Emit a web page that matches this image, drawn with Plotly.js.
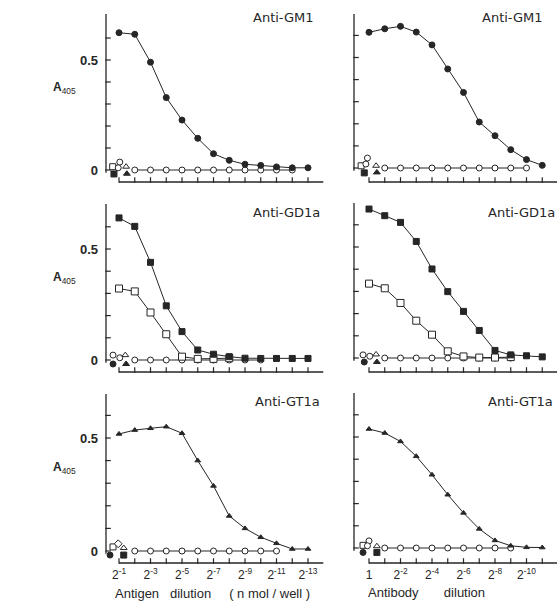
<!DOCTYPE html>
<html>
<head>
<meta charset="utf-8">
<script src="https://cdn.plot.ly/plotly-3.0.1.min.js"></script>
<style>html,body{margin:0;padding:0;background:#fff;}#chart{width:559px;height:613px;}</style>
</head>
<body>
<div id="chart"></div>
<script>
// ---------------- data (dilution exponents n: 2^-n) ----------------
const leftN  = [1,2,3,4,5,6,7,8,9,10,11,12,13];
const rightN = [0,1,2,3,4,5,6,7,8,9,10,11];

const panelTitles = ['Anti-GM1','Anti-GM1','Anti-GD1a','Anti-GD1a','Anti-GT1a','Anti-GT1a'];
const xTitleLeft  = 'Antigen\u00a0\u00a0\u00a0dilution\u00a0\u00a0\u00a0\u00a0\u00a0(\u00a0n\u00a0mol\u00a0/\u00a0well\u00a0)';
const xTitleRight = 'Antibody\u00a0\u00a0\u00a0\u00a0\u00a0\u00a0\u00a0dilution';
const yTickVals = [0,0.1,0.2,0.3,0.4,0.5,0.6];
const yTickText = ['<b>0</b>','','','','','<b>0.5</b>',''];

// top row : anti-GM1
const tlGM1 = [0.624,0.617,0.49,0.329,0.227,0.144,0.074,0.044,0.026,0.021,0.014,0.01,0.01];
const trGM1 = [0.614,0.63,0.641,0.615,0.557,0.448,0.342,0.208,0.146,0.083,0.038,0.012];
// middle row : anti-GD1a
const mlGD1aFilled = [0.64,0.602,0.44,0.244,0.128,0.045,0.026,0.015,0.008,0.007,0.007,0.007,0.007];
const mlGD1aOpenN  = [1,2,3,4,5,6,7,8];
const mlGD1aOpen   = [0.322,0.309,0.214,0.116,0.015,0.005,0.005,0.008];
const mrGD1aFilled = [0.671,0.641,0.611,0.525,0.401,0.299,0.21,0.124,0.034,0.014,0.01,0.005];
const mrGD1aOpenN  = [0,1,2,3,4,5,6,7,8,9];
const mrGD1aOpen   = [0.335,0.314,0.248,0.168,0.105,0.03,0.007,0.002,0.002,0.004];
// bottom row : anti-GT1a
const blGT1a = [0.518,0.535,0.543,0.55,0.521,0.4,0.288,0.155,0.1,0.061,0.034,0.009,0.009];
const brGT1a = [0.536,0.518,0.48,0.413,0.33,0.24,0.158,0.086,0.034,0.01,0.003,0.002];

// open-circle control lines near zero
const tlZeroN = [2,3,4,5,6,7,8,9,10,11,12];
const trZeroN = [1,2,3,4,5,6,7,8,9,10];
const mlZeroN = [2,3,4,5,6,7,8,9,10];
const mrZeroN = [1,2,3,4,5,6,7,8,9];
const blZeroN = [2,3,4,5,6,7,8,9,10,11];
const brZeroN = [1,2,3,4,5,6,7,8,9];

// control symbols clustered at the first dilution
const tlCtrlX = [0.6, 1.05, 1.45, 0.95, 0.68, 1.5];
const tlCtrlY = [0.015, 0.036, 0.015, 0.01, -0.018, -0.017];
const tlCtrlS = ['square-open','circle-open','triangle-up-open','circle-open','square','triangle-up'];
const trCtrlX = [-0.5, -0.1, 0.45, -0.2, -0.3, 0.5];
const trCtrlY = [0.01, 0.045, 0.01, 0.018, -0.022, -0.02];
const trCtrlS = ['square-open','circle-open','triangle-up-open','circle-open','square','triangle-up'];
const mlCtrlX = [0.62, 1.05, 1.4, 0.62, 1.45];
const mlCtrlY = [0.022, 0.01, 0.022, -0.018, -0.018];
const mlCtrlS = ['circle-open','circle-open','triangle-up-open','circle','triangle-up'];
const mrCtrlX = [-0.38, 0.05, 0.45, -0.3, 0.5];
const mrCtrlY = [0.014, 0.008, 0.016, -0.018, -0.018];
const mrCtrlS = ['circle-open','circle-open','triangle-up-open','circle','triangle-up'];
const blCtrlX = [0.62, 0.95, 1.3, 0.43, 1.3];
const blCtrlY = [0.018, 0.032, 0.013, -0.018, -0.018];
const blCtrlS = ['square-open','diamond-open','triangle-up-open','circle','square'];
const brCtrlX = [-0.38, 0.0, 0.5, -0.1, -0.38, 0.5];
const brCtrlY = [0.012, 0.032, 0.008, 0.01, -0.02, -0.02];
const brCtrlS = ['square-open','circle-open','triangle-up-open','circle-open','circle','square'];

// ---------------- geometry ----------------
const W = 559, H = 613;
const STEP = 15.75;
const PAD_L = 4, PAD_B = 3, PAD_T = 2;   // plot area extends slightly past the axis lines
const geo = [
  {side:'L', zero:170, scale:220, bottom:182, top:14},
  {side:'R', zero:168, scale:221, bottom:182, top:14},
  {side:'L', zero:360, scale:222, bottom:372, top:204},
  {side:'R', zero:358, scale:222, bottom:372, top:203},
  {side:'L', zero:551, scale:226, bottom:563, top:394},
  {side:'R', zero:548, scale:222, bottom:563, top:393}
];
const colL = {xl:106, xr:332, refPx:119, refN:1, lineStart:1, lineEnd:13.97};
const colR = {xl:354, xr:558, refPx:369, refN:0, lineStart:0, lineEnd:11.94};

const INK = '#262626';
const FONT = 'Liberation Sans, Arial, sans-serif';
const xid = k => k === 1 ? 'x' : 'x' + k;
const yid = k => k === 1 ? 'y' : 'y' + k;

function baseSym(s) { return s.replace('-open', ''); }
function fillOf(s) { return s.endsWith('-open') ? '#ffffff' : INK; }

function traceLine(k, x, y, symbol, size) {
  return {
    x: x, y: y, xaxis: xid(k), yaxis: yid(k), type: 'scatter', mode: 'lines+markers',
    line: {color: INK, width: 1},
    marker: {symbol: baseSym(symbol), size: size, color: fillOf(symbol), line: {color: INK, width: 1}},
    hoverinfo: 'skip', showlegend: false, cliponaxis: false
  };
}
function traceCtrl(k, x, y, syms) {
  return {
    x: x, y: y, xaxis: xid(k), yaxis: yid(k), type: 'scatter', mode: 'markers',
    marker: {symbol: syms.map(baseSym), size: 6, color: syms.map(fillOf), line: {color: INK, width: 1}},
    hoverinfo: 'skip', showlegend: false, cliponaxis: false
  };
}
const zerosOf = a => a.map(() => 0);

// axis frame (axis lines + inside ticks), placed inside each subplot's area
function axisFrame(k, g) {
  const col = g.side === 'L' ? colL : colR;
  const nList = g.side === 'L' ? leftN : rightN;
  const nAt = p => col.refN + (p - col.refPx) / STEP;
  const vAt = p => (g.zero - p) / g.scale;
  const common = {xaxis: xid(k), yaxis: yid(k), type: 'scatter', hoverinfo: 'skip',
                  showlegend: false, cliponaxis: false};
  return [
    Object.assign({x: [nAt(col.xl), nAt(col.xl)], y: [-0.012, vAt(g.top)], mode: 'lines',
                   line: {color: INK, width: 1.3}}, common),
    Object.assign({x: [col.lineStart, col.lineEnd], y: [vAt(g.bottom), vAt(g.bottom)], mode: 'lines',
                   line: {color: INK, width: 1.3}}, common),
    Object.assign({x: nList, y: nList.map(() => vAt(g.bottom - 2)), mode: 'markers',
                   marker: {symbol: 'line-ns', size: 4, color: INK, line: {color: INK, width: 1.2}}}, common),
    Object.assign({x: yTickVals.map(() => nAt(col.xl + 2)), y: yTickVals, mode: 'markers',
                   marker: {symbol: 'line-ew', size: 4, color: INK, line: {color: INK, width: 1.2}}}, common)
  ];
}

let data = [];
geo.forEach((g, i) => { data = data.concat(axisFrame(i + 1, g)); });
data = data.concat([
  traceLine(1, tlZeroN, zerosOf(tlZeroN), 'circle-open', 6),
  traceLine(1, leftN, tlGM1, 'circle', 6),
  traceCtrl(1, tlCtrlX, tlCtrlY, tlCtrlS),

  traceLine(2, trZeroN, zerosOf(trZeroN), 'circle-open', 6),
  traceLine(2, rightN, trGM1, 'circle', 6),
  traceCtrl(2, trCtrlX, trCtrlY, trCtrlS),

  traceLine(3, mlZeroN, zerosOf(mlZeroN), 'circle-open', 6),
  traceLine(3, mlGD1aOpenN, mlGD1aOpen, 'square-open', 7),
  traceLine(3, leftN, mlGD1aFilled, 'square', 6),
  traceCtrl(3, mlCtrlX, mlCtrlY, mlCtrlS),

  traceLine(4, mrZeroN, zerosOf(mrZeroN), 'circle-open', 6),
  traceLine(4, mrGD1aOpenN, mrGD1aOpen, 'square-open', 7),
  traceLine(4, rightN, mrGD1aFilled, 'square', 6),
  traceCtrl(4, mrCtrlX, mrCtrlY, mrCtrlS),

  traceLine(5, blZeroN, zerosOf(blZeroN), 'circle-open', 6),
  traceLine(5, leftN, blGT1a, 'triangle-up', 5),
  traceCtrl(5, blCtrlX, blCtrlY, blCtrlS),

  traceLine(6, brZeroN, zerosOf(brZeroN), 'circle-open', 6),
  traceLine(6, rightN, brGT1a, 'triangle-up', 5),
  traceCtrl(6, brCtrlX, brCtrlY, brCtrlS)
]);

const layout = {
  width: W, height: H,
  margin: {l:0, r:0, t:0, b:0},
  paper_bgcolor: '#ffffff', plot_bgcolor: 'rgba(0,0,0,0)',
  font: {family: FONT, color: INK},
  showlegend: false,
  annotations: []
};

geo.forEach((g, i) => {
  const k = i + 1;
  const col = g.side === 'L' ? colL : colR;
  const nAt = p => col.refN + (p - col.refPx) / STEP;
  const vAt = p => (g.zero - p) / g.scale;
  const bottomRow = i >= 4;
  const nList = g.side === 'L' ? leftN : rightN;
  const tickText = nList.map(n => {
    if (g.side === 'L') return (n % 2 === 1) ? '2<sup>-' + n + '</sup>' : '';
    if (n === 0) return '1';
    return (n % 2 === 0) ? '2<sup>-' + n + '</sup>' : '';
  });
  const left = col.xl - PAD_L, bottom = g.bottom + PAD_B, top = g.top - PAD_T;
  const xa = k === 1 ? 'xaxis' : 'xaxis' + k;
  const ya = k === 1 ? 'yaxis' : 'yaxis' + k;
  layout[xa] = {
    domain: [left / W, col.xr / W], range: [nAt(left), nAt(col.xr)],
    anchor: yid(k), showgrid: false, zeroline: false, showline: false,
    tickmode: 'array', tickvals: nList, ticktext: tickText, ticks: '',
    showticklabels: bottomRow, ticklabelstandoff: 0,
    tickfont: {family: FONT, size: 12, color: INK}
  };
  layout[ya] = {
    domain: [1 - bottom / H, 1 - top / H], range: [vAt(bottom), vAt(top)],
    anchor: xid(k), showgrid: false, zeroline: false, showline: false,
    tickmode: 'array', tickvals: yTickVals, ticktext: yTickText, ticks: '',
    showticklabels: g.side === 'L', ticklabelstandoff: 3,
    tickfont: {family: FONT, size: 13, color: INK}
  };
  const titleRight = [316, 545, 322, 557, 322, 555][i];
  const titleY = [18, 18, 212, 212, 401, 401][i];
  layout.annotations.push({text: panelTitles[i], xref:'paper', yref:'paper',
    x: titleRight / W, y: 1 - titleY / H, xanchor:'right', yanchor:'middle', showarrow:false,
    font:{family:'DejaVu Sans, sans-serif', size:13, color:INK}});
  if (g.side === 'L') {
    const ly = [88, 278, 468][i / 2];
    layout.annotations.push({text:'<b>A</b><sub>405</sub>', xref:'paper', yref:'paper',
      x: 51 / W, y: 1 - ly / H, xanchor:'left', yanchor:'middle', showarrow:false,
      font:{family:FONT, size:12, color:INK}});
  }
});

layout.annotations.push({text: xTitleLeft, xref:'paper', yref:'paper',
  x: 113 / W, y: 1 - 593 / H, xanchor:'left', yanchor:'middle', showarrow:false,
  font:{family:FONT, size:13, color:INK}});
layout.annotations.push({text: xTitleRight, xref:'paper', yref:'paper',
  x: 366 / W, y: 1 - 592 / H, xanchor:'left', yanchor:'middle', showarrow:false,
  font:{family:FONT, size:13, color:INK}});

Plotly.newPlot('chart', data, layout, {displayModeBar: false});
</script>
</body>
</html>
